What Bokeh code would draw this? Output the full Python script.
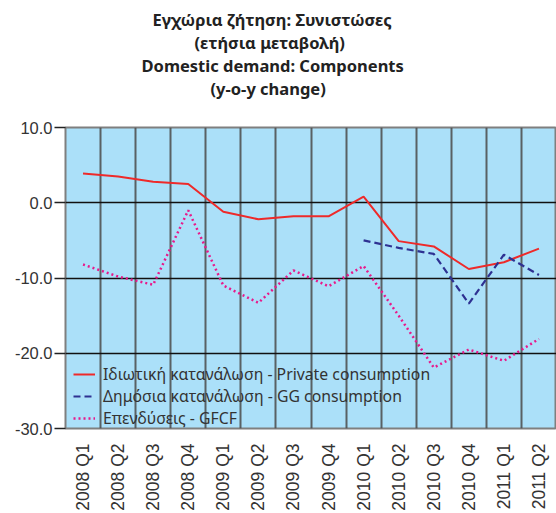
from bokeh.plotting import figure
from bokeh.models import FixedTicker, Title, Legend, LegendItem, ColumnDataSource
from bokeh.embed import file_html
from bokeh.resources import INLINE
import math

title_lines = ["Εγχώρια ζήτηση: Συνιστώσες", "(ετήσια μεταβολή)",
               "Domestic demand: Components", "(y-o-y change)"]
quarters = ["2008 Q1", "2008 Q2", "2008 Q3", "2008 Q4",
            "2009 Q1", "2009 Q2", "2009 Q3", "2009 Q4",
            "2010 Q1", "2010 Q2", "2010 Q3", "2010 Q4",
            "2011 Q1", "2011 Q2"]
private_cons = [3.9, 3.5, 2.8, 2.5, -1.2, -2.2, -1.8, -1.8, 0.8, -5.1, -5.8, -8.8, -7.9, -6.1]
gg_cons = [None, None, None, None, None, None, None, None, -5.0, -6.0, -6.8, -13.4, -6.9, -9.6]
gfcf = [-8.2, -9.8, -10.9, -1.0, -11.0, -13.3, -9.0, -11.1, -8.4, -15.0, -21.9, -19.5, -21.0, -18.1]
y_ticks = [-30, -20, -10, 0, 10]

idx = list(range(len(quarters)))
nan = float("nan")
gg_vals = [nan if v is None else v for v in gg_cons]

p = figure(width=556, height=513, output_backend="svg", toolbar_location=None,
           x_range=(-0.5, len(quarters) - 0.5), y_range=(-30, 10),
           min_border_left=65, min_border_right=0, min_border_top=127, min_border_bottom=85)

p.background_fill_color = "#ABE0F9"
p.border_fill_color = "white"
p.outline_line_color = "#7f7f7f"
p.outline_line_width = 2

# spacer between title block and frame, then the title lines (nearest first)
p.add_layout(Title(text=" ", text_font="Noto Sans", text_font_size="14px", standoff=7,
                   vertical_align="middle"), "above")
title_offsets = [87, 129, 76, 145]   # left edges of the title lines, from the frame's left side
for line, off in reversed(list(zip(title_lines, title_offsets))):
    p.add_layout(Title(text=line, align="left", vertical_align="middle", text_font="Noto Sans",
                       text_font_style="bold", text_font_size="16.5px", text_color="#222222",
                       offset=off, standoff=-2), "above")

# grids
p.xgrid.ticker = FixedTicker(ticks=[i + 0.5 for i in range(len(quarters) - 1)])
p.xgrid.grid_line_color = "#4a4a4a"
p.xgrid.grid_line_width = 2
p.xgrid.grid_line_alpha = 0.85
p.ygrid.ticker = FixedTicker(ticks=[-20, -10, 0])
p.ygrid.grid_line_color = "#111111"
p.ygrid.grid_line_width = 1.6

# axes
p.xaxis.ticker = FixedTicker(ticks=idx)
p.xaxis.major_label_overrides = {i: q for i, q in enumerate(quarters)}
p.xaxis.major_label_orientation = math.pi / 2
p.xaxis.major_label_text_font = "Liberation Sans"
p.xaxis.major_label_text_font_size = "17.5px"
p.xaxis.major_label_text_color = "#333333"
p.xaxis.major_label_standoff = 15
p.xaxis.major_tick_out = 0
p.xaxis.major_tick_in = 0
p.xaxis.major_tick_line_color = None
p.xaxis.minor_tick_line_color = None
p.xaxis.axis_line_color = None

p.yaxis.ticker = FixedTicker(ticks=y_ticks)
p.yaxis.major_label_overrides = {t: f"{t:.1f}" for t in y_ticks}
p.yaxis.major_label_text_font = "Liberation Sans"
p.yaxis.major_label_text_font_size = "16.5px"
p.yaxis.major_label_text_color = "#333333"
p.yaxis.major_label_standoff = 2
p.yaxis.major_tick_out = 11
p.yaxis.major_tick_in = 0
p.yaxis.major_tick_line_color = "#222222"
p.yaxis.major_tick_line_width = 1.5
p.yaxis.minor_tick_line_color = None
p.yaxis.axis_line_color = None

src = ColumnDataSource(dict(x=idx, pc=private_cons, gg=gg_vals, gf=gfcf))
r1 = p.line("x", "pc", source=src, line_color="#EE2A2A", line_width=2)
r2 = p.line("x", "gg", source=src, line_color="#2E3192", line_width=2.2, line_dash="7 4")
r3 = p.line("x", "gf", source=src, line_color="#E8198B", line_width=2.5, line_dash="2 3")

legend = Legend(items=[LegendItem(label="Ιδιωτική κατανάλωση - Private consumption", renderers=[r1]),
                       LegendItem(label="Δημόσια κατανάλωση - GG consumption", renderers=[r2]),
                       LegendItem(label="Επενδύσεις - GFCF", renderers=[r3])],
                location=(3, -6), background_fill_alpha=0, border_line_alpha=0,
                label_text_font="Noto Sans", label_text_font_size="15.8px", label_text_color="#333333",
                glyph_width=22, glyph_height=20, label_height=20, spacing=0, padding=5,
                label_standoff=8, margin=0)
p.add_layout(legend, "center")

open("out.html", "w").write(file_html(p, INLINE))
